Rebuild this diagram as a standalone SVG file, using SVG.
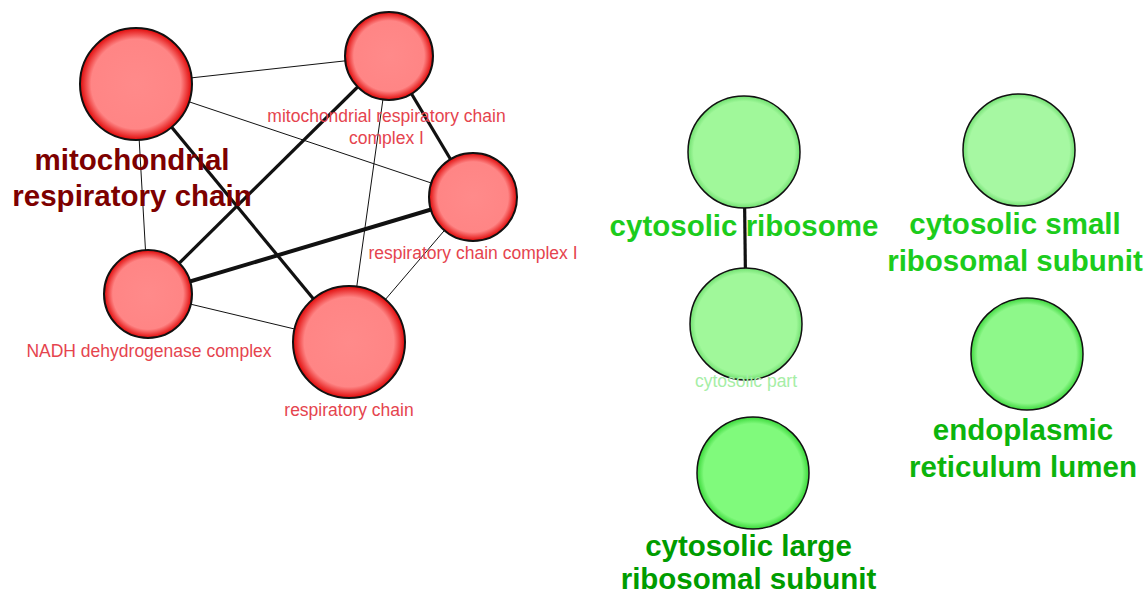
<svg xmlns="http://www.w3.org/2000/svg" width="1144" height="593" viewBox="0 0 1144 593">
<defs>
<radialGradient id="gRed" cx="50%" cy="50%" r="50%">
<stop offset="0" stop-color="#ff8a8a"/>
<stop offset="0.8" stop-color="#ff8585"/>
<stop offset="1" stop-color="#e00808"/>
</radialGradient>
<radialGradient id="gG1" cx="50%" cy="50%" r="50%">
<stop offset="0" stop-color="#a0f89a"/>
<stop offset="0.9" stop-color="#a0f89a"/>
<stop offset="1" stop-color="#70e070"/>
</radialGradient>
<radialGradient id="gG2" cx="50%" cy="50%" r="50%">
<stop offset="0" stop-color="#a6f8a2"/>
<stop offset="0.9" stop-color="#a6f8a2"/>
<stop offset="1" stop-color="#72e072"/>
</radialGradient>
<radialGradient id="gG3" cx="50%" cy="50%" r="50%">
<stop offset="0" stop-color="#8ef88a"/>
<stop offset="0.88" stop-color="#8ef88a"/>
<stop offset="1" stop-color="#3fd83f"/>
</radialGradient>
<radialGradient id="gG4" cx="50%" cy="50%" r="50%">
<stop offset="0" stop-color="#80fa7c"/>
<stop offset="0.88" stop-color="#80fa7c"/>
<stop offset="1" stop-color="#3ad83a"/>
</radialGradient>
</defs>
<style>
.nr{fill:url(#gRed);stroke:#111;stroke-width:2}
.ng{stroke:#111;stroke-width:1.5}
.thin{stroke:#111;stroke-width:1;fill:none}
.thick{stroke:#111;stroke-width:3.2;fill:none}
.lr{font-family:"Liberation Sans",Arial,sans-serif;font-size:17.5px;fill:#e5444e;text-anchor:middle}
.lb{font-family:"Liberation Sans",Arial,sans-serif;font-size:29.5px;font-weight:bold;text-anchor:middle}
</style>
<rect width="1144" height="593" fill="#fff"/>
<g id="connectors">
<line class="thin" x1="136" y1="84" x2="389" y2="56"/>
<line class="thin" x1="136" y1="84" x2="473" y2="197"/>
<line class="thin" x1="136" y1="84" x2="148" y2="294"/>
<line class="thick" x1="136" y1="84" x2="349" y2="342"/>
<line class="thick" x1="389" y1="56" x2="473" y2="197"/>
<line class="thick" x1="389" y1="56" x2="148" y2="294"/>
<line class="thin" x1="389" y1="56" x2="349" y2="342"/>
<line class="thick" x1="473" y1="197" x2="148" y2="294" style="stroke-width:4"/>
<line class="thin" x1="473" y1="197" x2="349" y2="342"/>
<line class="thin" x1="148" y1="294" x2="349" y2="342"/>
<line class="thick" x1="744" y1="152" x2="746" y2="324"/>
</g>
<g id="node-mrc">
<circle class="nr" cx="136" cy="84" r="56"/>
</g>
<g id="node-mrcc1">
<circle class="nr" cx="389" cy="56" r="44"/>
</g>
<g id="node-rcc1">
<circle class="nr" cx="473" cy="197" r="44"/>
</g>
<g id="node-nadh">
<circle class="nr" cx="148" cy="294" r="44"/>
</g>
<g id="node-rc">
<circle class="nr" cx="349" cy="342" r="56"/>
</g>
<g id="labels-red">
<text class="lr" x="386.5" y="122">mitochondrial respiratory chain</text>
<text class="lr" x="386.5" y="144">complex I</text>
<text class="lr" x="473" y="259">respiratory chain complex I</text>
<text class="lr" x="149" y="357">NADH dehydrogenase complex</text>
<text class="lr" x="349" y="416">respiratory chain</text>
<text class="lb" x="132" y="169.5" fill="#7d0000">mitochondrial</text>
<text class="lb" x="132" y="205.5" fill="#7d0000">respiratory chain</text>
</g>
<g id="node-cytosolic-ribosome">
<circle class="ng" fill="url(#gG1)" cx="744" cy="152" r="56"/>
<text class="lb" x="744" y="236" fill="#1ccc1c">cytosolic ribosome</text>
</g>
<g id="node-cytosolic-part">
<circle class="ng" fill="url(#gG1)" cx="746" cy="324" r="56"/>
<text class="lr" x="746" y="387" style="fill:#a6eea6">cytosolic part</text>
</g>
<g id="node-cytosolic-small">
<circle class="ng" fill="url(#gG2)" cx="1019" cy="150" r="56"/>
<text class="lb" x="1015" y="234" fill="#1ccc1c">cytosolic small</text>
<text class="lb" x="1015" y="270.5" fill="#1ccc1c">ribosomal subunit</text>
</g>
<g id="node-er-lumen">
<circle class="ng" fill="url(#gG3)" cx="1027" cy="354" r="56"/>
<text class="lb" x="1023" y="439.5" fill="#0cb40c">endoplasmic</text>
<text class="lb" x="1023" y="477" fill="#0cb40c">reticulum lumen</text>
</g>
<g id="node-cytosolic-large">
<circle class="ng" fill="url(#gG4)" cx="753" cy="473" r="56"/>
<text class="lb" x="748.5" y="556" fill="#009c00">cytosolic large</text>
<text class="lb" x="748.5" y="589" fill="#009c00">ribosomal subunit</text>
</g>
</svg>
